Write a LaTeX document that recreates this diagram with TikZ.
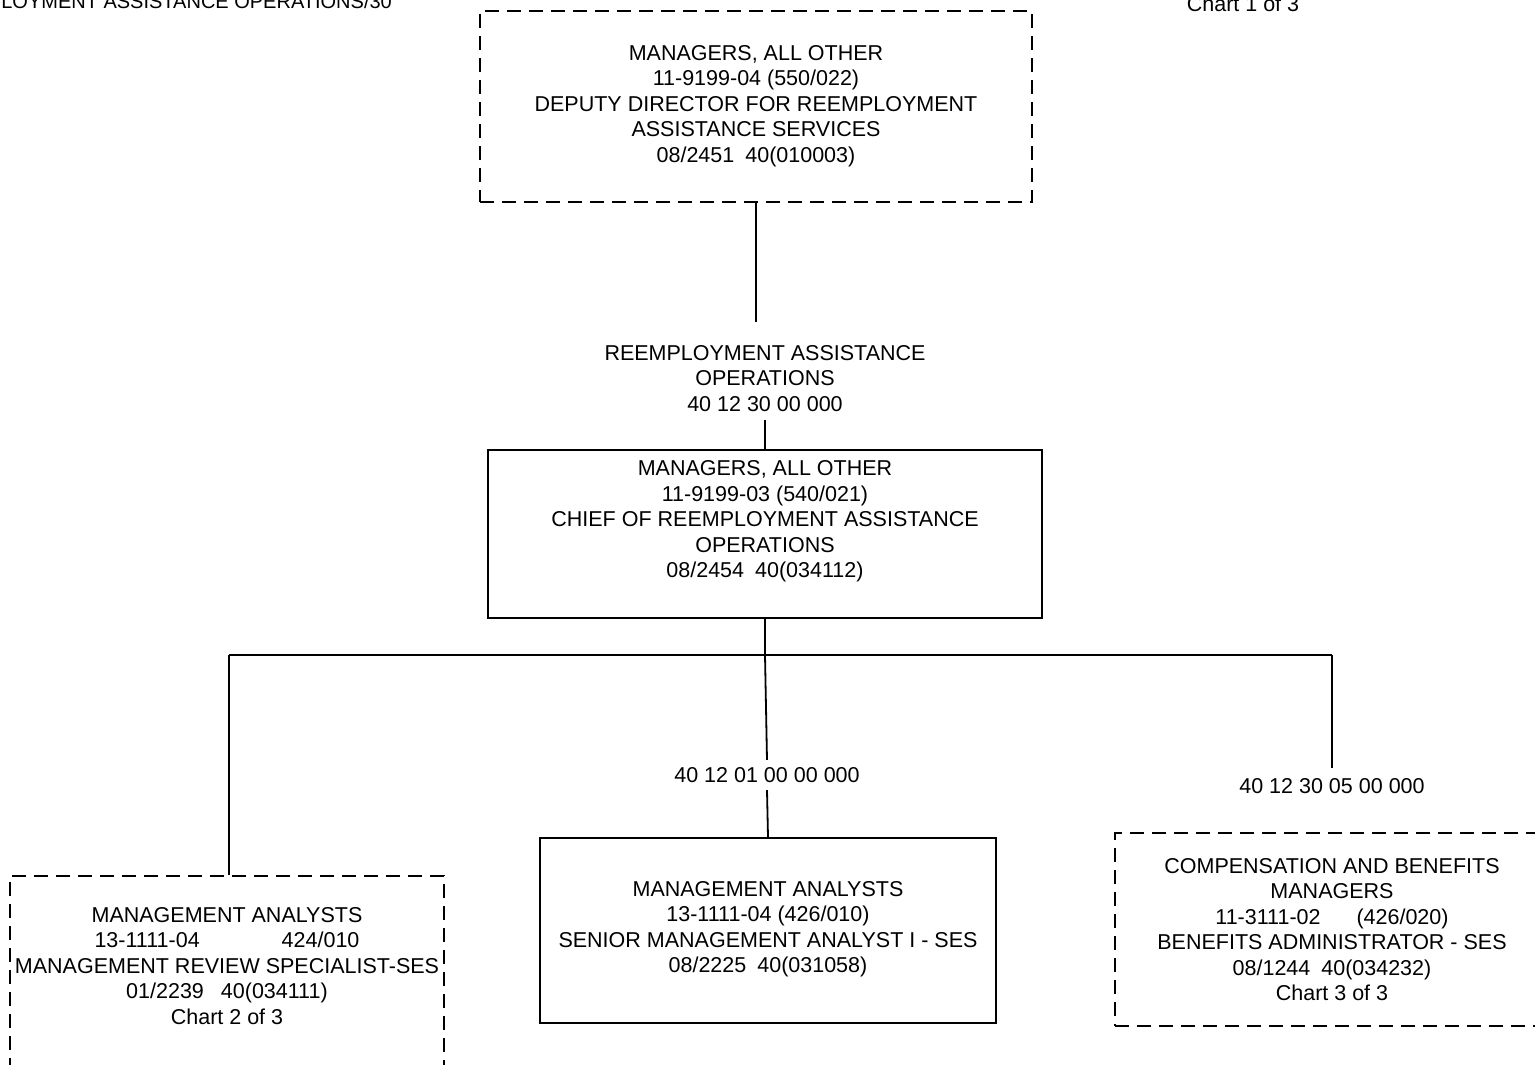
\documentclass[tikz,border=0pt]{standalone}
\usepackage{fontspec}
\setmainfont{Liberation Sans}
\begin{document}
\begin{tikzpicture}[x=1pt,y=-1pt,
  every node/.style={font=\fontsize{21.5}{25.5}\selectfont, inner sep=0pt},
  wire/.style={line width=1.8pt},
  solidbox/.style={draw, line width=1.8pt, rectangle, minimum width=#1},
  dashbox/.style={draw, line width=1.8pt, rectangle, dash pattern=on 14pt off 8pt, minimum width=#1},
  txt/.style={align=center},
  codelabel/.style={inner xsep=2pt, text height=15pt, text depth=0pt}]
\useasboundingbox (0,0) rectangle (1535,1065);
\clip (0,0) rectangle (1535,1065);

% header texts
\node[anchor=base east, font=\fontsize{20}{24}\selectfont] (hdr) at (392,9) {REEMPLOYMENT ASSISTANCE OPERATIONS/30};
\node[anchor=base] (chart1) at (1243,12) {Chart 1 of 3};

% deputy director (dashed)
\node[dashbox=552pt, minimum height=191pt] (top) at (756,106.5) {};
\node[txt] (toptxt) at (756,106) {MANAGERS, ALL OTHER\\11-9199-04 (550/022)\\DEPUTY DIRECTOR FOR REEMPLOYMENT\\ASSISTANCE SERVICES\\08/2451\hspace{11pt}40(010003)};
\coordinate (topend) at (756,322);
\draw[wire] (top.south) -- (topend);

% unit title
\node[txt, inner ysep=8pt] (title) at (765,378.5) {REEMPLOYMENT ASSISTANCE\\OPERATIONS\\40 12 30 00 000};

% chief
\node[solidbox=554pt, minimum height=168pt] (chief) at (765,534) {};
\node[txt] (chieftxt) at (765,521.5) {MANAGERS, ALL OTHER\\11-9199-03 (540/021)\\CHIEF OF REEMPLOYMENT ASSISTANCE\\OPERATIONS\\08/2454\hspace{11pt}40(034112)};
\draw[wire] (title.south) -- (chief.north);

% distribution bus
\coordinate (bus) at (765,655);
\coordinate (lbus) at (229,655);
\coordinate (rbus) at (1332,655);
\draw[wire] (chief.south) -- (bus);
\draw[wire] (lbus) -- (rbus);

% left: management review specialist (dashed)
\node[dashbox=434pt, minimum height=204pt] (left) at (227,978) {};
\node[txt] (lefttxt) at (227,966) {MANAGEMENT ANALYSTS\\13-1111-04\hspace{82pt}424/010\\MANAGEMENT REVIEW SPECIALIST-SES\\01/2239\hspace{17pt}40(034111)\\Chart 2 of 3};
\draw[wire] (lbus) -- (lbus |- left.north);

% middle: senior management analyst
\node[codelabel, inner ysep=7.5pt] (mlabel) at (767,775) {40 12 01 00 00 000};
\node[solidbox=456pt, minimum height=185pt] (mid) at (768,930.5) {};
\node[txt] (midtxt) at (768,929) {MANAGEMENT ANALYSTS\\13-1111-04 (426/010)\\SENIOR MANAGEMENT ANALYST I - SES\\08/2225\hspace{11pt}40(031058)};
\draw[wire] (bus) -- (mlabel.north);
\draw[wire] (mlabel.south) -- (mid.north);

% right: benefits administrator (dashed)
\node[codelabel, inner ysep=10.5pt] (rlabel) at (1332,786) {40 12 30 05 00 000};
\node[dashbox=435pt, minimum height=193pt] (right) at (1332.5,929.5) {};
\node[txt] (righttxt) at (1332,929.5) {COMPENSATION AND BENEFITS\\MANAGERS\\11-3111-02\hspace{36pt}(426/020)\\BENEFITS ADMINISTRATOR - SES\\08/1244\hspace{11pt}40(034232)\\Chart 3 of 3};
\draw[wire] (rbus) -- (rlabel.north);
\end{tikzpicture}
\end{document}
